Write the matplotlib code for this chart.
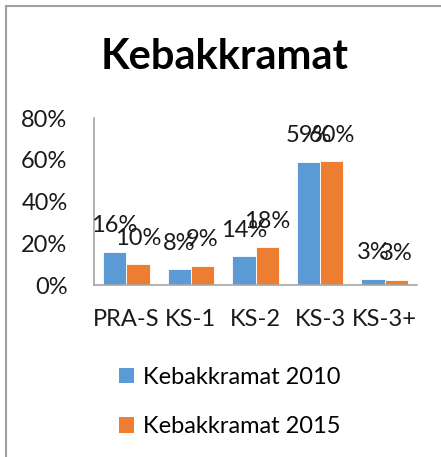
import matplotlib
matplotlib.use("Agg")
import matplotlib.pyplot as plt
from matplotlib.patches import Patch
from matplotlib.lines import Line2D
import numpy as np

categories = ["PRA-S", "KS-1", "KS-2", "KS-3", "KS-3+"]
series_2010 = [16.0, 7.5, 13.9, 59.2, 3.0]
series_2015 = [10.1, 9.3, 18.2, 59.6, 2.6]
series_names = ["Kebakkramat 2010", "Kebakkramat 2015"]
yticks = [0, 20, 40, 60, 80]
title = "Kebakkramat"

blue = "#5B9BD5"
orange = "#ED7D31"
font = "Lato"
fs = 17

fig = plt.figure(figsize=(4.41, 4.57), dpi=100)
ax = fig.add_axes([94/441, 1-285/457, (417-94)/441, (285-118.3)/457])

x = np.arange(len(categories))
w = 0.36
b1 = ax.bar(x - w/2, series_2010, w, color=blue, edgecolor="white", linewidth=0.6)
b2 = ax.bar(x + w/2, series_2015, w, color=orange, edgecolor="white", linewidth=0.6)

for bars, vals in ((b1, series_2010), (b2, series_2015)):
    for r, v in zip(bars, vals):
        ax.annotate(f"{round(v):d}%", (r.get_x() + r.get_width()/2, r.get_height()),
                    xytext=(0, 11), textcoords="offset points", ha="center", va="bottom",
                    fontsize=fs, family=font, color="#1a1a1a")

ax.set_xlim(-0.5, len(categories) - 0.5)
ax.set_ylim(0, 80)
ax.set_yticks(yticks)
ax.set_yticklabels([f"{t}%" for t in yticks], family=font, fontsize=fs)
ax.set_xticks(x)
ax.set_xticklabels(categories, family=font, fontsize=fs)
ax.tick_params(axis="y", length=0, pad=19, colors="#1a1a1a")
ax.tick_params(axis="x", length=0, pad=17, colors="#1a1a1a")
for s in ("top", "right"):
    ax.spines[s].set_visible(False)
for s in ("left", "bottom"):
    ax.spines[s].set_color("#a6a6a6")
    ax.spines[s].set_linewidth(1.2)

fig.text(225/441, 1-69/457, title, ha="center", va="baseline", fontsize=30,
         fontweight="bold", family=font, color="black")

handles = [Patch(facecolor=blue), Patch(facecolor=orange)]
leg = fig.legend(handles, series_names, loc="center", bbox_to_anchor=(230/441, 1-402/457),
                 frameon=False, prop={"family": font, "size": fs}, borderpad=0,
                 handlelength=0.62, handleheight=0.62, handletextpad=0.4, labelspacing=1.2)

fig.add_artist(Line2D([6/441, 6/441], [0, 1-5.5/457], transform=fig.transFigure,
                      color="#a0a0a0", linewidth=1.5))
fig.add_artist(Line2D([6/441, 1], [1-5.5/457, 1-5.5/457], transform=fig.transFigure,
                      color="#a0a0a0", linewidth=1.5))

fig.savefig("out.png", dpi=100)
